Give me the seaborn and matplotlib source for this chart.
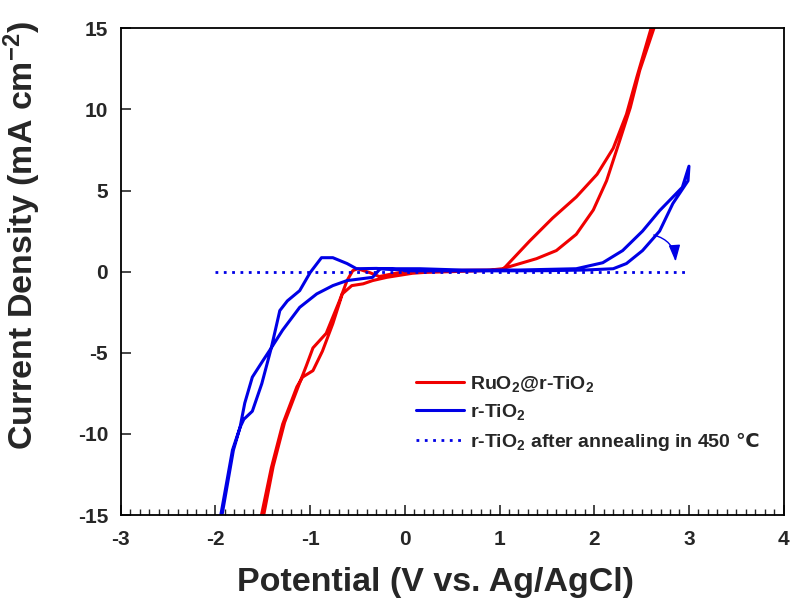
import matplotlib
matplotlib.use("Agg")
import matplotlib.pyplot as plt
from matplotlib.ticker import MultipleLocator
import seaborn as sns
import pandas as pd

# RuO2@r-TiO2 cyclic voltammogram (one closed loop)
ruo2_x = [0.0, 0.3, 0.6, 0.9, 1.03, 1.14, 1.39, 1.60, 1.81, 1.99, 2.13, 2.27, 2.38, 2.48, 2.63, 2.70,
          2.60, 2.45, 2.34, 2.20, 2.03, 1.81, 1.56, 1.32, 1.03, 0.6, 0.2, 0.08, -0.19, -0.34, -0.44, -0.56,
          -0.66, -0.76, -0.87, -0.97, -1.08, -1.14, -1.29, -1.41, -1.51, -1.56,
          -1.49, -1.39, -1.27, -1.12, -1.04, -0.97, -0.83, -0.69, -0.61, -0.55, -0.50, -0.37, -0.27, -0.1, 0.0]
ruo2_y = [0.0, 0.05, 0.08, 0.1, 0.18, 0.37, 0.8, 1.3, 2.3, 3.8, 5.6, 8.1, 10.1, 12.4, 15.0, 17.0,
          15.0, 12.0, 9.7, 7.6, 6.0, 4.6, 3.3, 1.9, 0.1, 0.02, -0.05, -0.1, -0.35, -0.55, -0.75, -0.86,
          -1.37, -3.2, -4.9, -6.1, -6.5, -7.1, -9.4, -12.1, -14.9, -16.5,
          -15.0, -12.0, -9.3, -7.0, -5.8, -4.7, -3.8, -1.8, -0.55, 0.06, 0.18, -0.06, -0.3, -0.1, 0.0]

# r-TiO2 cyclic voltammogram
tio2_x = [0.0, 0.5, 1.0, 1.5, 1.9, 2.2, 2.34, 2.51, 2.69, 2.83, 2.99, 3.0,
          2.93, 2.69, 2.51, 2.30, 2.09, 1.81, 1.2, 0.6, 0.16, -0.26, -0.34, -0.61, -0.76, -0.93,
          -1.11, -1.29, -1.41, -1.50, -1.61, -1.69, -1.74, -1.82, -1.94, -1.97,
          -1.93, -1.81, -1.74, -1.70, -1.61, -1.51, -1.41, -1.32, -1.24, -1.11, -1.0, -0.88,
          -0.76, -0.61, -0.51, -0.3, 0.0]
tio2_y = [0.05, 0.05, 0.05, 0.06, 0.1, 0.18, 0.5, 1.3, 2.5, 4.2, 5.6, 6.5,
          5.2, 3.76, 2.5, 1.3, 0.55, 0.18, 0.1, 0.1, 0.18, 0.18, -0.35, -0.55, -0.86, -1.37,
          -2.2, -3.6, -4.7, -5.5, -6.5, -8.1, -9.6, -11.0, -14.9, -16.5,
          -15.0, -11.0, -9.6, -9.1, -8.6, -6.9, -4.7, -2.4, -1.8, -1.17, -0.06, 0.86,
          0.86, 0.5, 0.18, 0.2, 0.1]

# r-TiO2 after annealing in 450 C (flat)
ann_x = [-2.0, 3.0]
ann_y = [0.0, 0.0]

labels = ["RuO$_2$@r-TiO$_2$", "r-TiO$_2$", "r-TiO$_2$ after annealing in 450 $\\mathsf{\u2103}$"]
red = "#f00000"
blue = "#0000e6"

sns.set_style("ticks")
plt.rcParams["font.family"] = ["Liberation Sans", "DejaVu Sans"]
plt.rcParams["font.weight"] = "bold"
plt.rcParams["axes.unicode_minus"] = False
plt.rcParams["mathtext.fontset"] = "custom"
plt.rcParams["mathtext.rm"] = "Liberation Sans:bold"
plt.rcParams["mathtext.it"] = "Liberation Sans:bold"
plt.rcParams["mathtext.bf"] = "Liberation Sans:bold"
plt.rcParams["mathtext.sf"] = "DejaVu Sans"
plt.rcParams["mathtext.default"] = "regular"

fig = plt.figure(figsize=(7.94, 6.01), dpi=100)
ax = fig.add_axes([0.152, 0.143, 0.835, 0.810])

df_ru = pd.DataFrame({"x": ruo2_x, "y": ruo2_y})
df_ti = pd.DataFrame({"x": tio2_x, "y": tio2_y})
df_an = pd.DataFrame({"x": ann_x, "y": ann_y})

sns.lineplot(data=df_ru, x="x", y="y", sort=False, estimator=None, color=red, lw=2.2,
             label=labels[0], ax=ax)
sns.lineplot(data=df_ti, x="x", y="y", sort=False, estimator=None, color=blue, lw=2.2,
             label=labels[1], ax=ax)
sns.lineplot(data=df_an, x="x", y="y", sort=False, estimator=None, color=blue, lw=2.0,
             linestyle=(0, (1, 2)), label=labels[2], ax=ax)

# scan direction arrow
ax.annotate("", xy=(2.86, 0.45), xytext=(2.6, 2.3),
            arrowprops=dict(arrowstyle="-|>,head_length=1.0,head_width=0.35", color=blue, lw=1,
                            connectionstyle="arc3,rad=-0.4"))

ax.set_xlim(-3, 4)
ax.set_ylim(-15, 15)
ax.xaxis.set_major_locator(MultipleLocator(1))
ax.xaxis.set_minor_locator(MultipleLocator(0.1))
ax.yaxis.set_major_locator(MultipleLocator(5))
ax.tick_params(axis="both", which="major", direction="in", length=7, width=1.2, labelsize=15)
ax.tick_params(axis="x", which="major", pad=11)
ax.tick_params(axis="y", which="major", pad=9)
ax.tick_params(axis="x", which="minor", direction="in", length=4, width=1)
for lab in ax.get_xticklabels() + ax.get_yticklabels():
    lab.set_fontweight("bold")
for s in ax.spines.values():
    s.set_linewidth(1.3)
    s.set_color("black")

ax.set_xlabel("Potential (V vs. Ag/AgCl)", fontsize=24.5, fontweight="bold")
ax.set_ylabel("Current Density (mA cm$^{-2}$)", fontsize=24.5, fontweight="bold")
ax.xaxis.set_label_coords(0.475, -0.106)
ax.yaxis.set_label_coords(-0.117, 0.575)

ax.legend(loc="lower left", bbox_to_anchor=(0.445, 0.128), frameon=False,
          prop={"size": 14, "weight": "bold"}, handlelength=2.5, handletextpad=0.3,
          labelspacing=0.4, borderpad=0, borderaxespad=0)

fig.savefig("out.png", dpi=100)
